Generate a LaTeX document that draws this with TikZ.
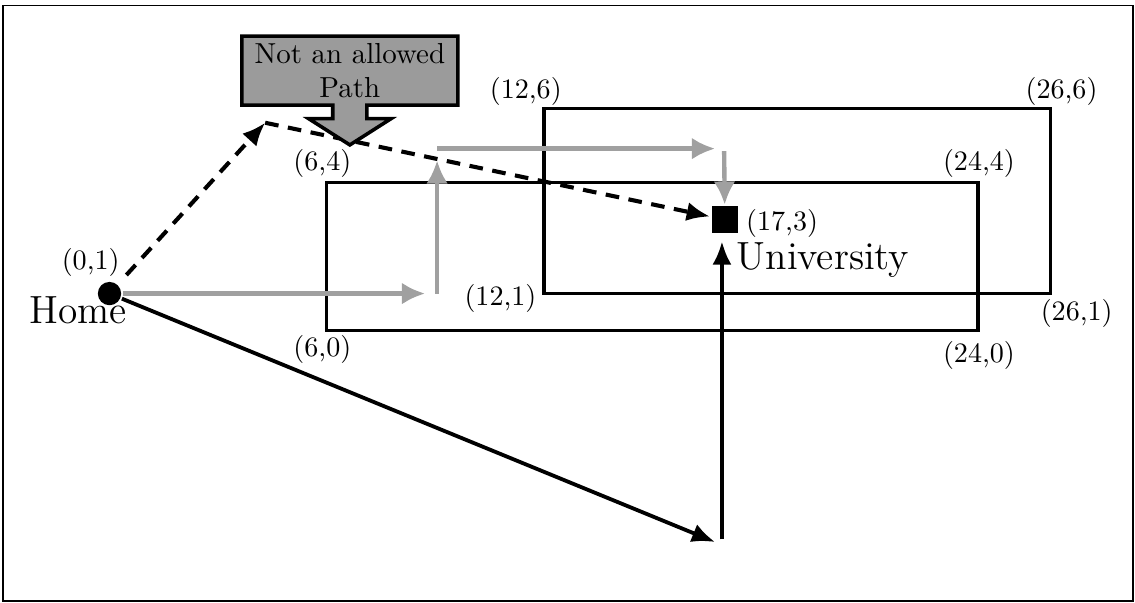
\documentclass[tikz,border=0pt]{standalone}
\usetikzlibrary{arrows.meta,shapes.arrows}
\definecolor{pathgray}{HTML}{A0A0A0}
\definecolor{boxgray}{HTML}{9B9B9B}
\tikzset{
	% ------- every something
	every path/.style={
		line width=1.3pt,
	},
	every node/.style={
		font=\normalsize,
	},
	% ------- custom
	vector/.style={
		line width=1.4pt,
		-{Latex[length=8.5pt,width=7pt]},
	},
	allowed/.style={
		pathgray,
		line width=1.6pt,
		-{Latex[length=8.5pt,width=8pt]},
	},
	forbidden/.style={
		line width=1.5pt,
		dash pattern=on 5pt off 3.5pt,
		-{Latex[length=8.5pt,width=7pt]},
	},
	corner label/.style={
		inner sep=0pt,
		font=\fontsize{10.3}{12.4}\selectfont,
	},
	place label/.style={
		font=\Large,
		anchor=base,
		inner sep=0pt,
	},
	warning/.style={
		draw,
		fill=boxgray,
		arrow box,
		arrow box arrows={south:0.49cm from border},
		arrow box shaft width=0.44cm,
		arrow box head extend=0.31cm,
		arrow box tip angle=115,
		align=center,
		font=\fontsize{10.6}{12.8}\selectfont,
		minimum width=2.78cm,
		minimum height=0.888cm,
		inner sep=1.5pt,
	},
}

\begin{document}
\begin{tikzpicture}[x=0.466cm,y=0.476cm]

% frame %{{{1

	\useasboundingbox (-3.025,-7.36) rectangle (28.33,8.94);
	\draw[line width=0.7pt] (-2.94,-7.31) rectangle (28.27,8.79);

% coordinates %{{{1

	\coordinate (detour) at (4.3,5.62);
	\coordinate (east) at (8.72,1);
	\coordinate (north start) at (9.05,1);
	\coordinate (north end) at (9.05,4.6);
	\coordinate (top start) at (9.05,4.92);
	\coordinate (top end) at (16.73,4.92);
	\coordinate (down start) at (16.98,4.85);
	\coordinate (south) at (16.73,-5.72);
	\coordinate (turn) at (16.92,-5.65);

% regions %{{{1

	\draw (6,0) rectangle (24,4);
	\draw (12,1) rectangle (26,6);

% places %{{{1

	\node[circle, fill=black, inner sep=0pt, minimum size=0.3cm] (home) at (0,1) {};
	\node[fill=black, inner sep=0pt, minimum size=0.34cm] (uni) at (17,3) {};

% paths %{{{1

	\draw[forbidden, shorten <=0.15cm] (home) -- (detour);
	\draw[forbidden] (detour) -- (uni);

	\draw[allowed] (home) -- (east);
	\draw[allowed] (north start) -- (north end);
	\draw[allowed] (top start) -- (top end);
	\draw[allowed] (down start) -- (uni);

	\draw[vector] (home) -- (south);
	\draw[vector, shorten >=2.5pt] (turn) -- (turn |- uni.south);

% callout %{{{1

	\node[warning] (warn) at (6.64,7.03) {Not an allowed\\Path};

% labels %{{{1

	\node[corner label] (l01) at (-0.52,1.83) {(0,1)};
	\node[corner label] (l64) at (5.88,4.52) {(6,4)};
	\node[corner label] (l60) at (5.88,-0.52) {(6,0)};
	\node[corner label] (l244) at (24.02,4.52) {(24,4)};
	\node[corner label] (l240) at (24.02,-0.68) {(24,0)};
	\node[corner label] (l126) at (11.5,6.46) {(12,6)};
	\node[corner label] (l266) at (26.3,6.46) {(26,6)};
	\node[corner label] (l121) at (10.8,0.87) {(12,1)};
	\node[corner label] (l261) at (26.72,0.45) {(26,1)};
	\node[corner label] (l173) at (18.58,2.9) {(17,3)};

	\node[place label] (home label) at (-0.86,0.2) {Home};
	\node[place label] (uni label) at (19.71,1.64) {University};

% closing %{{{1

\end{tikzpicture}
\end{document}
